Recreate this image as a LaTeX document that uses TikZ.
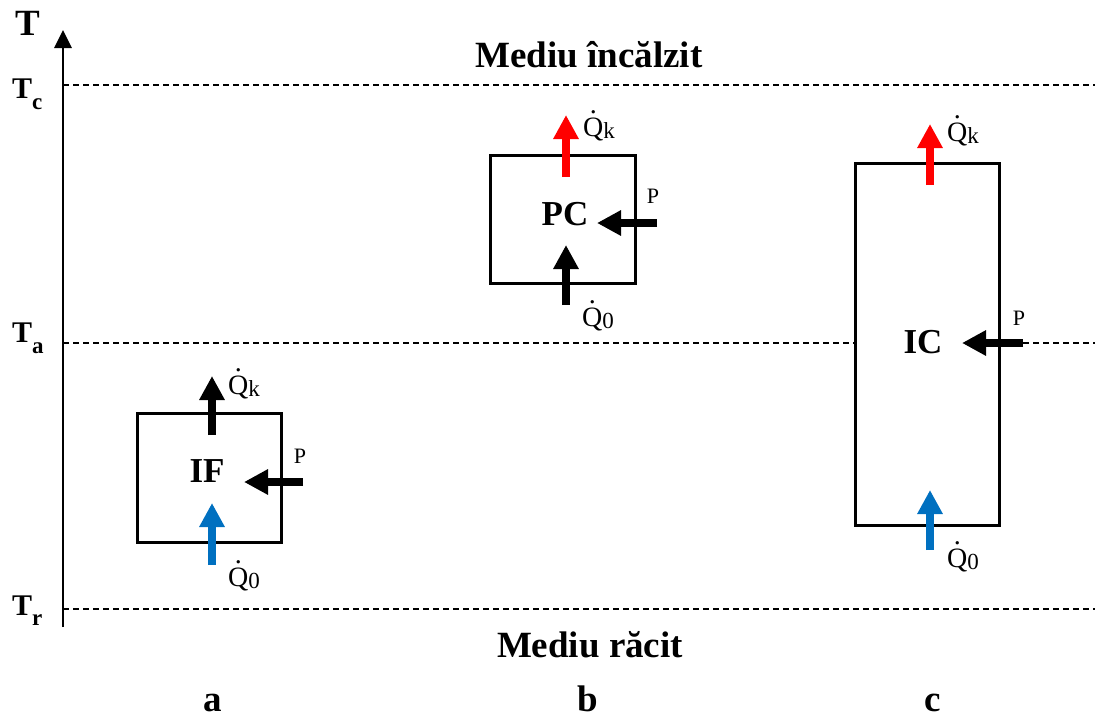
\documentclass[tikz,border=0pt]{standalone}
\usepackage{fontspec}
\setmainfont{Liberation Serif}
\usetikzlibrary{arrows.meta}
\definecolor{qblue}{RGB}{0,112,192}
\definecolor{qred}{RGB}{255,0,0}
\newcommand\qflowlbl[1]{\makebox[0pt][l]{\hspace{0.24em}\raisebox{0.8em}{.}}Q\raisebox{-2pt}{\fontsize{23}{23}\selectfont #1}}
\tikzset{
  big/.style={font=\bfseries\fontsize{37}{40}\selectfont, inner sep=0, anchor=base},
  tlbl/.style={font=\bfseries\fontsize{30}{32}\selectfont, inner sep=0, anchor=base west},
  boxlbl/.style={font=\bfseries\fontsize{35}{38}\selectfont, inner sep=0, anchor=base},
  plbl/.style={font=\fontsize{22}{24}\selectfont, inner sep=0, anchor=base},
  qlbl/.style={font=\fontsize{28}{30}\selectfont, inner sep=0, anchor=base west},
  sysbox/.style={draw=black, fill=white, line width=3pt},
  limline/.style={line width=1.3pt, dash pattern=on 6pt off 4pt},
  axisline/.style={line width=2.7pt, -{Triangle[length=18pt,width=17pt]}},
  flow/.style={line width=8pt, -{Triangle[length=24pt,width=24pt]}},
}
\begin{document}
\begin{tikzpicture}[x=1pt,y=-1pt]
\useasboundingbox (0,0) rectangle (1098,715);
% axis
\coordinate (axb) at (63,627);
\coordinate (axt) at (63,30);
\draw[axisline] (axb) -- (axt);
\node[big] (T) at (28,35) {T};
% limit lines
\coordinate (c1) at (63,85);  \coordinate (c2) at (1095,85);
\coordinate (a1) at (63,343); \coordinate (a2) at (1095,343);
\coordinate (r1) at (63,609); \coordinate (r2) at (1095,609);
\draw[limline] (c1) -- (c2);
\draw[limline] (a1) -- (a2);
\draw[limline] (r1) -- (r2);
\node[tlbl] (Tc) at (12,98) {T\raisebox{-11pt}{\fontsize{23}{23}\selectfont c}};
\node[tlbl] (Ta) at (12,342) {T\raisebox{-11pt}{\fontsize{23}{23}\selectfont a}};
\node[tlbl] (Tr) at (12,615) {T\raisebox{-10pt}{\fontsize{23}{23}\selectfont r}};
\node[big] (hot) at (589,67) {Mediu încălzit};
\node[big] (cold) at (590,657) {Mediu răcit};
\node[big] (la) at (213,711) {a};
\node[big] (lb) at (588,711) {b};
\node[big] (lc) at (933,711) {c};
% boxes
\draw[sysbox] (137,413) rectangle (281,542);
\draw[sysbox] (490,155) rectangle (635,283);
\draw[sysbox] (855,163) rectangle (999,525);
\node[boxlbl] (IF) at (207,482) {IF};
\node[boxlbl] (PC) at (565,225) {PC};
\node[boxlbl] (IC) at (923,353) {IC};
% IF arrows
\coordinate (ifk1) at (212,435); \coordinate (ifk2) at (212,376);
\coordinate (ifp1) at (303,482); \coordinate (ifp2) at (244,482);
\coordinate (if01) at (212,565); \coordinate (if02) at (212,503);
\draw[flow] (ifk1) -- (ifk2);
\draw[flow] (ifp1) -- (ifp2);
\draw[flow, qblue] (if01) -- (if02);
% PC arrows
\coordinate (pck1) at (566,177); \coordinate (pck2) at (566,115);
\coordinate (pcp1) at (657,223); \coordinate (pcp2) at (597,223);
\coordinate (pc01) at (566,305); \coordinate (pc02) at (566,245);
\draw[flow, qred] (pck1) -- (pck2);
\draw[flow] (pcp1) -- (pcp2);
\draw[flow] (pc01) -- (pc02);
% IC arrows
\coordinate (ick1) at (930,185); \coordinate (ick2) at (930,124);
\coordinate (icp1) at (1023,343); \coordinate (icp2) at (962,343);
\coordinate (ic01) at (930,550); \coordinate (ic02) at (930,490);
\draw[flow, qred] (ick1) -- (ick2);
\draw[flow] (icp1) -- (icp2);
\draw[flow, qblue] (ic01) -- (ic02);
% flow labels
\node[qlbl] (qkIF) at (228,394) {\qflowlbl{k}};
\node[qlbl] (q0IF) at (228,586) {\qflowlbl{0}};
\node[qlbl] (qkPC) at (583,136) {\qflowlbl{k}};
\node[qlbl] (q0PC) at (582,326) {\qflowlbl{0}};
\node[qlbl] (qkIC) at (947,141) {\qflowlbl{k}};
\node[qlbl] (q0IC) at (947,567) {\qflowlbl{0}};
\node[plbl] (pIF) at (300,463) {P};
\node[plbl] (pPC) at (653,203) {P};
\node[plbl] (pIC) at (1019,325) {P};
\end{tikzpicture}
\end{document}
